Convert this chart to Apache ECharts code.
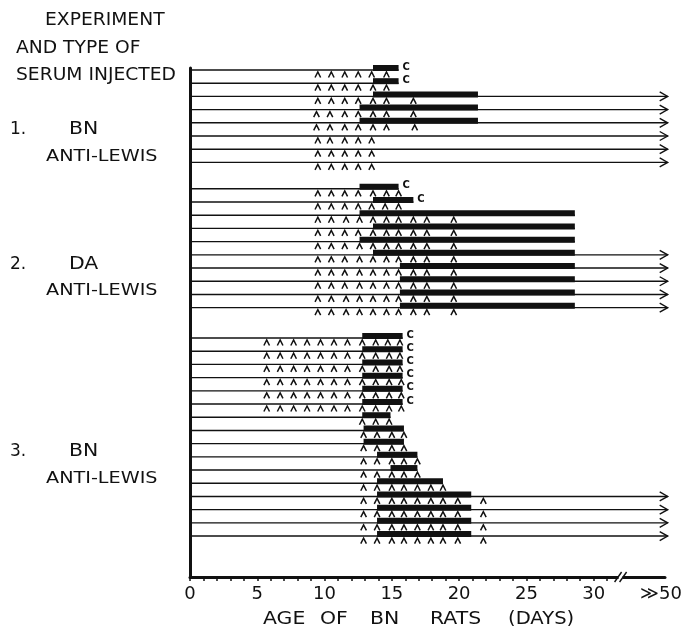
<!DOCTYPE html>
<html>
<head>
<meta charset="utf-8">
<script src="https://cdn.jsdelivr.net/npm/echarts@6/dist/echarts.min.js"></script>
<style>
html,body{margin:0;padding:0;background:#fff;}
#chart{width:685px;height:634px;}
</style>
</head>
<body>
<div id="chart"></div>
<script>
// ---------------- DATA ----------------
// x tick labels (day values and their text)
const tickValues = [0, 5, 10, 15, 20, 25, 30, 35];
const tickLabels = ['0', '5', '10', '15', '20', '25', '30', '\u226B50'];
const minorTickValues = [0,1,2,3,4,5,6,7,8,9,10,11,12,13,14,15,16,17,18,19,20,21,22,23,24,25,26,27,28,29,30,31];

// Group labels
const groupNumbers = ['1.', '2.', '3.'];
const groupSerum = ['BN', 'DA', 'BN'];
const groupAgainst = ['ANTI-LEWIS', 'ANTI-LEWIS', 'ANTI-LEWIS'];
const headerLines = ['EXPERIMENT', 'AND TYPE OF', 'SERUM INJECTED'];
const axisTitleWords = ['AGE', 'OF', 'BN', 'RATS', '(DAYS)'];

// Row fate: 'c' = died (c), 'arrow' = survived beyond 50 days, 'end' = line stops
const group1Fate = ['c', 'c', 'arrow', 'arrow', 'arrow', 'arrow', 'arrow', 'arrow'];
// Thick bar (start day, end day); null = no bar
const group1Bars = [[13.6, 15.5], [13.6, 15.5], [13.6, 21.4], [12.6, 21.4], [12.6, 21.4], null, null, null];
// Injection days (^ marks)
const group1Shots = [
  [9.5, 10.5, 11.5, 12.5, 13.5, 14.6],
  [9.5, 10.5, 11.5, 12.5, 13.6, 14.6],
  [9.5, 10.5, 11.5, 12.5, 13.6, 14.6, 16.6],
  [9.4, 10.4, 11.5, 12.5, 13.6, 14.6, 16.6],
  [9.4, 10.4, 11.5, 12.5, 13.6, 14.6, 16.7],
  [9.5, 10.4, 11.5, 12.5, 13.5],
  [9.5, 10.5, 11.5, 12.5, 13.5],
  [9.5, 10.5, 11.5, 12.5, 13.5]
];

const group2Fate = ['c', 'c', 'end', 'end', 'end', 'arrow', 'arrow', 'arrow', 'arrow', 'arrow'];
const group2Bars = [[12.6, 15.5], [13.6, 16.6], [12.6, 28.6], [13.6, 28.6], [12.6, 28.6], [13.6, 28.6], [15.6, 28.6], [15.6, 28.6], [15.6, 28.6], [15.6, 28.6]];
const group2Shots = [
  [9.5, 10.5, 11.5, 12.5, 13.6, 14.6, 15.5],
  [9.5, 10.5, 11.5, 12.5, 13.5, 14.5, 15.5],
  [9.5, 10.5, 11.6, 12.6, 13.6, 14.6, 15.5, 16.6, 17.6, 19.6],
  [9.5, 10.5, 11.5, 12.5, 13.6, 14.6, 15.5, 16.6, 17.6, 19.6],
  [9.5, 10.5, 11.5, 12.6, 13.6, 14.6, 15.5, 16.6, 17.6, 19.6],
  [9.5, 10.5, 11.5, 12.6, 13.6, 14.6, 15.5, 16.6, 17.6, 19.6],
  [9.5, 10.5, 11.5, 12.6, 13.6, 14.6, 15.5, 16.6, 17.6, 19.6],
  [9.5, 10.5, 11.5, 12.6, 13.6, 14.6, 15.5, 16.6, 17.6, 19.6],
  [9.5, 10.5, 11.6, 12.6, 13.6, 14.6, 15.5, 16.6, 17.6, 19.6],
  [9.5, 10.5, 11.6, 12.6, 13.6, 14.6, 15.5, 16.6, 17.6, 19.6]
];

const group3Fate = ['c', 'c', 'c', 'c', 'c', 'c', 'end', 'end', 'end', 'end', 'end', 'end', 'arrow', 'arrow', 'arrow', 'arrow'];
const group3Bars = [[12.8, 15.8], [12.8, 15.8], [12.8, 15.8], [12.8, 15.8], [12.8, 15.8], [12.8, 15.8],
  [12.8, 14.9], [12.9, 15.9], [12.9, 15.9], [13.9, 16.9], [14.9, 16.9], [13.9, 18.8],
  [13.9, 20.9], [13.9, 20.9], [13.9, 20.9], [13.9, 20.9]];
const group3Shots = [
  [5.7, 6.7, 7.7, 8.7, 9.7, 10.7, 11.7, 12.8, 13.8, 14.7, 15.6],
  [5.7, 6.7, 7.7, 8.7, 9.7, 10.7, 11.7, 12.8, 13.8, 14.8, 15.6],
  [5.7, 6.7, 7.7, 8.7, 9.7, 10.7, 11.7, 12.8, 13.8, 14.8, 15.6],
  [5.7, 6.7, 7.7, 8.7, 9.7, 10.7, 11.7, 12.8, 13.8, 14.8, 15.7],
  [5.7, 6.7, 7.7, 8.7, 9.7, 10.7, 11.7, 12.8, 13.8, 14.8, 15.7],
  [5.7, 6.7, 7.7, 8.7, 9.7, 10.7, 11.7, 12.8, 13.8, 14.8, 15.7],
  [12.8, 13.8, 14.8],
  [12.9, 13.9, 15.0, 15.9],
  [12.9, 13.9, 15.0, 15.9],
  [12.9, 13.9, 15.0, 15.9, 16.9],
  [12.9, 13.9, 15.0, 15.9, 16.9],
  [12.9, 13.9, 15.0, 15.9, 16.9, 17.9, 18.8],
  [12.9, 13.9, 15.0, 15.9, 16.9, 17.9, 18.8, 19.9, 21.8],
  [12.9, 13.9, 15.0, 15.9, 16.9, 17.9, 18.8, 19.9, 21.8],
  [12.9, 13.9, 15.0, 15.9, 16.9, 17.9, 18.8, 19.9, 21.8],
  [12.9, 13.9, 15.0, 15.9, 16.9, 17.9, 18.8, 19.9, 21.8]
];

// ---------------- LAYOUT ----------------
const ARROW_DAY = 35.5;     // arrows run past the axis break toward >>50
const BREAK_DAY = 32;
const X_MAX = 35.3;
const Y_MIN = -0.15, Y_MAX = 38.4;
const GROUP_GAPS = [0, 2, 2.3];
const INK = '#111';
const FONT = 'DejaVu Sans';

const groups = [
  {fate: group1Fate, bars: group1Bars, shots: group1Shots},
  {fate: group2Fate, bars: group2Bars, shots: group2Shots},
  {fate: group3Fate, bars: group3Bars, shots: group3Shots}
];

const rowData = [];   // [lineEnd, slot, barStart, barEnd, fateCode]
const shotData = [];  // [day, slot]
const fateCode = {c: 0, arrow: 1, end: 2};
let slot = 0;
groups.forEach((g, gi) => {
  slot += GROUP_GAPS[gi];
  g.fate.forEach((f, i) => {
    const bar = g.bars[i] || [0, 0];
    const lineEnd = f === 'arrow' ? ARROW_DAY : bar[1];
    rowData.push([lineEnd, slot, bar[0], bar[1], fateCode[f]]);
    g.shots[i].forEach(d => shotData.push([d, slot]));
    slot += 1;
  });
  slot -= 1;
});

function renderRow(params, api) {
  const lineEnd = api.value(0), s = api.value(1), b0 = api.value(2), b1 = api.value(3), fate = api.value(4);
  const p0 = api.coord([0, s]);
  const p1 = api.coord([lineEnd, s]);
  const y = p0[1];
  const children = [{
    type: 'line',
    shape: {x1: p0[0], y1: y, x2: p1[0], y2: y},
    style: {stroke: INK, lineWidth: 1.4}
  }];
  if (b1 > b0) {
    const xb0 = api.coord([b0, s])[0], xb1 = api.coord([b1, s])[0];
    children.push({
      type: 'rect',
      shape: {x: xb0, y: y - 5, width: xb1 - xb0, height: 6},
      style: {fill: INK}
    });
  }
  if (fate === 1) {
    children.push({
      type: 'polyline',
      shape: {points: [[p1[0] - 8, y - 4.5], [p1[0], y], [p1[0] - 8, y + 4.5]]},
      style: {stroke: INK, lineWidth: 1.4, fill: null}
    });
  } else if (fate === 0) {
    const xc = api.coord([b1, s])[0];
    children.push({
      type: 'text',
      style: {text: 'C', x: xc + 4, y: y - 3, fill: INK, font: 'bold 10px ' + FONT, textAlign: 'left', textVerticalAlign: 'middle'}
    });
  }
  return {type: 'group', children: children};
}

function renderShot(params, api) {
  const p = api.coord([api.value(0), api.value(1)]);
  const x = p[0], y = p[1];
  return {
    type: 'polyline',
    shape: {points: [[x - 2.8, y + 7.5], [x, y + 2], [x + 2.8, y + 7.5]]},
    style: {stroke: INK, lineWidth: 1.5, fill: null}
  };
}

function renderBreak(params, api) {
  const p = api.coord([api.value(0), Y_MAX]);
  const x = p[0], y = p[1];
  return {
    type: 'group',
    children: [
      {type: 'rect', shape: {x: x - 2, y: y - 3, width: 4, height: 6}, style: {fill: '#fff'}},
      {type: 'line', shape: {x1: x - 6, y1: y + 5, x2: x + 1, y2: y - 5}, style: {stroke: INK, lineWidth: 1.4}},
      {type: 'line', shape: {x1: x - 1, y1: y + 5, x2: x + 6, y2: y - 5}, style: {stroke: INK, lineWidth: 1.4}}
    ]
  };
}

// ---------------- TEXT ----------------
function label(text, x, y, size, sx) {
  return {
    type: 'text', x: x, y: y, scaleX: sx, scaleY: 1,
    style: {text: text, fill: INK, font: size + 'px ' + FONT, textAlign: 'left', textVerticalAlign: 'middle'}
  };
}
const headerPos = [[45, 21], [16, 49], [16, 76]];
const groupLabelY = [[130, 157], [265, 291], [452, 479]];
const titleWordX = [263, 320, 370, 430, 508];
const graphics = [];
headerLines.forEach((t, i) => graphics.push(label(t, headerPos[i][0], headerPos[i][1], 17, 1.1)));
groupNumbers.forEach((n, i) => {
  graphics.push(label(n, 10, groupLabelY[i][0], 17, 1.0));
  graphics.push(label(groupSerum[i], 69, groupLabelY[i][0], 17, 1.2));
  graphics.push(label(groupAgainst[i], 46, groupLabelY[i][1], 16, 1.2));
});
axisTitleWords.forEach((w, i) => graphics.push(label(w, titleWordX[i], 620, 17, i === 4 ? 1.15 : 1.2)));

const chart = echarts.init(document.getElementById('chart'), null, {renderer: 'canvas'});
chart.setOption({
  animation: false,
  backgroundColor: '#fff',
  grid: {left: 190, right: 685 - 190 - Math.round(X_MAX * 13.45), top: 68, bottom: 57, containLabel: false},
  xAxis: {
    type: 'value', min: 0, max: X_MAX, interval: 5,
    axisLine: {show: true, onZero: false, lineStyle: {color: INK, width: 3}},
    axisTick: {show: true, inside: false, length: 4, customValues: minorTickValues, lineStyle: {color: INK, width: 1.5}},
    axisLabel: {
      customValues: tickValues, margin: 8, color: INK, fontSize: 18, fontFamily: FONT,
      formatter: v => tickLabels[tickValues.indexOf(v)] || ''
    },
    splitLine: {show: false}
  },
  yAxis: {
    type: 'value', min: Y_MIN, max: Y_MAX, inverse: true,
    axisLine: {show: true, onZero: false, lineStyle: {color: INK, width: 3}},
    axisTick: {show: false}, axisLabel: {show: false}, splitLine: {show: false}
  },
  graphic: graphics,
  series: [
    {type: 'custom', renderItem: renderRow, data: rowData, encode: {x: 0, y: 1}, clip: false, z: 3},
    {type: 'custom', renderItem: renderShot, data: shotData, encode: {x: 0, y: 1}, clip: false, z: 4},
    {type: 'custom', renderItem: renderBreak, data: [[BREAK_DAY]], encode: {x: 0}, clip: false, z: 10}
  ]
});
</script>
</body>
</html>
